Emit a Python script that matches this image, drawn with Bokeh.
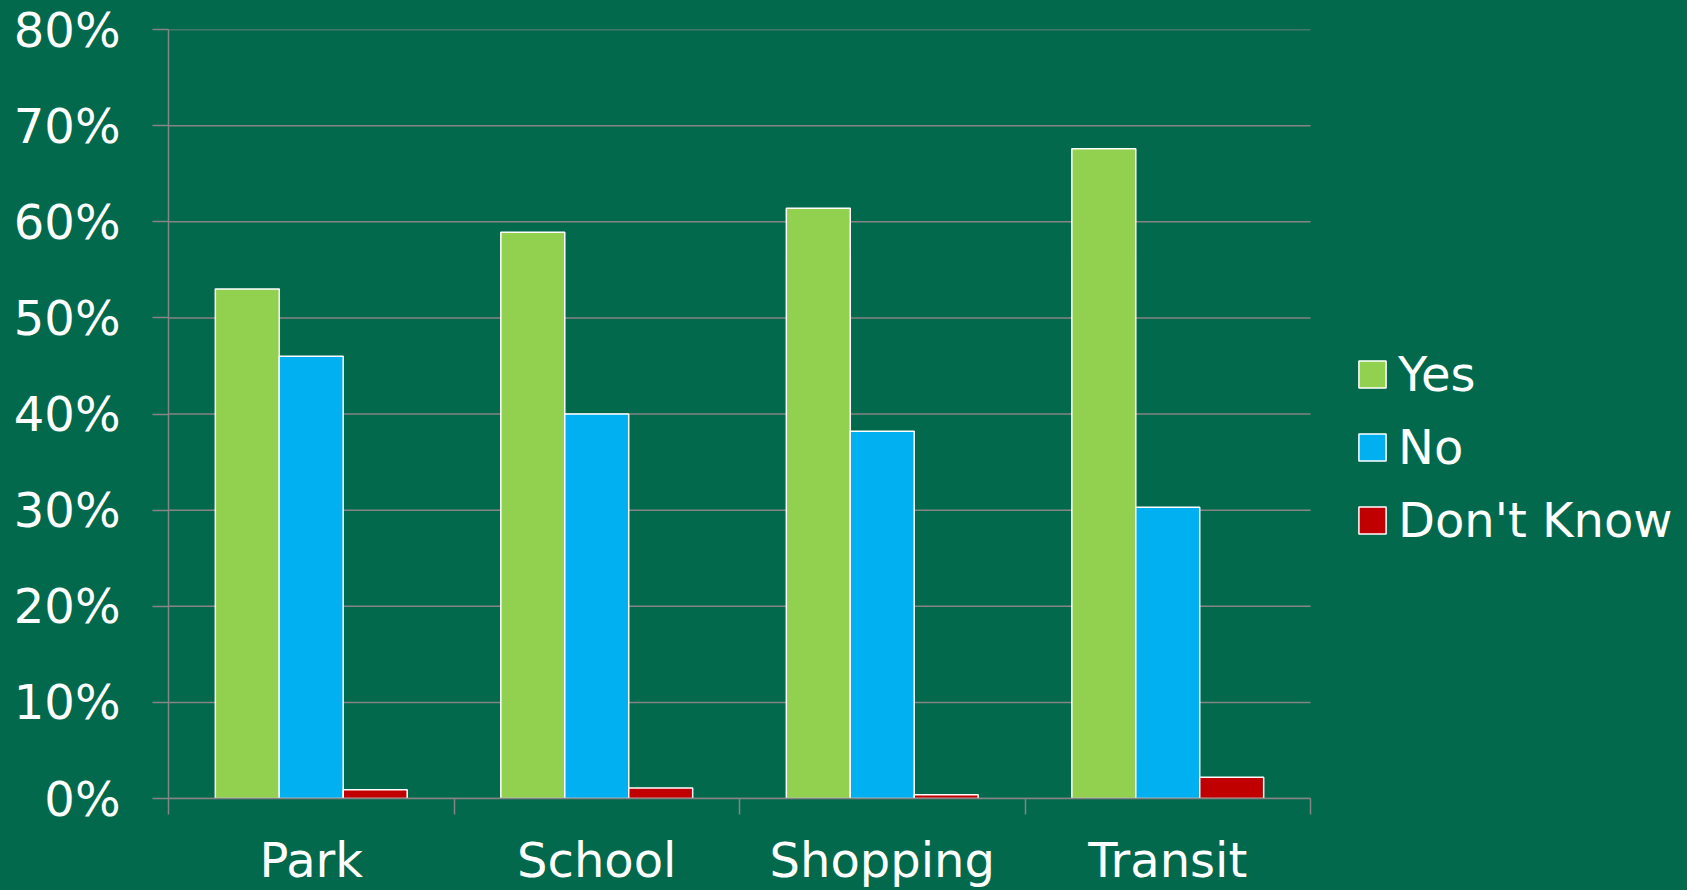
from bokeh.plotting import figure
from bokeh.models import (Legend, LegendItem, FixedTicker, NumeralTickFormatter,
                          Range1d, ColumnDataSource)
from bokeh.transform import dodge
from bokeh.embed import file_html
from bokeh.resources import INLINE

categories = ["Park", "School", "Shopping", "Transit"]
series_names = ["Yes", "No", "Don't Know"]
yes = [0.530, 0.589, 0.614, 0.676]
no = [0.460, 0.400, 0.382, 0.303]
dont_know = [0.009, 0.011, 0.004, 0.022]
y_ticks = [0.0, 0.1, 0.2, 0.3, 0.4, 0.5, 0.6, 0.7, 0.8]

colors = ["#92D050", "#00B0F0", "#C00000"]
BG = "#03694C"
GRID = "#858585"
FONT = "DejaVu Sans"
FS = "48px"

W, H = 1687, 890
LEFT = 168
CHART_W = 1142          # pixel width of the bar area
n = len(categories)
x_end = n * (W - LEFT) / CHART_W   # frame extends under the legend

centers = [i + 0.5 for i in range(n)]
source = ColumnDataSource(dict(x=centers, yes=yes, no=no, dk=dont_know))

p = figure(width=W, height=H, output_backend="svg", toolbar_location=None,
           x_range=Range1d(0, x_end), y_range=Range1d(0, y_ticks[-1]),
           min_border_left=LEFT, min_border_right=0, min_border_top=29,
           min_border_bottom=80,
           background_fill_color=BG, border_fill_color=None,
           outline_line_color=None, styles={"background-color": BG})

# horizontal gridlines, limited to the bar area
p.segment(x0=[0] * len(y_ticks), x1=[n] * len(y_ticks), y0=y_ticks, y1=y_ticks,
          line_color=GRID, line_width=1.5)

bw = 0.224
renderers = []
for col, off, c in zip(["yes", "no", "dk"], [-bw, 0.0, bw], colors):
    r = p.vbar(x=dodge("x", off, range=p.x_range), top=col, bottom=0, width=bw,
               source=source, fill_color=c, line_color="white", line_width=1.5)
    renderers.append(r)

# y axis
p.yaxis.bounds = (0, y_ticks[-1])
p.yaxis.ticker = FixedTicker(ticks=y_ticks, minor_ticks=[])
p.yaxis.formatter = NumeralTickFormatter(format="0%")
p.yaxis.major_tick_out = 16
p.yaxis.major_tick_in = 0
p.yaxis.minor_tick_line_color = None
p.yaxis.axis_line_color = GRID
p.yaxis.axis_line_width = 1.5
p.yaxis.major_tick_line_color = GRID
p.yaxis.major_tick_line_width = 1.5
p.yaxis.major_label_standoff = 32
p.yaxis.major_label_text_font = FONT
p.yaxis.major_label_text_font_size = FS
p.yaxis.major_label_text_color = "white"

# x axis
p.xaxis.bounds = (0, n)
p.xaxis.ticker = FixedTicker(ticks=centers, minor_ticks=list(range(n + 1)))
p.xaxis.major_label_overrides = {c: name for c, name in zip(centers, categories)}
p.xaxis.major_tick_out = 0
p.xaxis.major_tick_in = 0
p.xaxis.major_tick_line_color = None
p.xaxis.minor_tick_out = 16
p.xaxis.minor_tick_in = 0
p.xaxis.minor_tick_line_color = GRID
p.xaxis.minor_tick_line_width = 1.5
p.xaxis.axis_line_color = GRID
p.xaxis.axis_line_width = 1.5
p.xaxis.major_label_standoff = 17
p.xaxis.major_label_text_font = FONT
p.xaxis.major_label_text_font_size = FS
p.xaxis.major_label_text_color = "white"

p.xgrid.visible = False
p.ygrid.visible = False

legend = Legend(items=[LegendItem(label=s, renderers=[r]) for s, r in zip(series_names, renderers)],
                location=(1187, 250), glyph_width=34, glyph_height=34,
                label_text_font=FONT, label_text_font_size=FS, label_text_color="white",
                label_standoff=9, spacing=17, padding=0, margin=0,
                background_fill_alpha=0, border_line_alpha=0)
p.add_layout(legend, "center")

open("out.html", "w").write(file_html(p, INLINE))
